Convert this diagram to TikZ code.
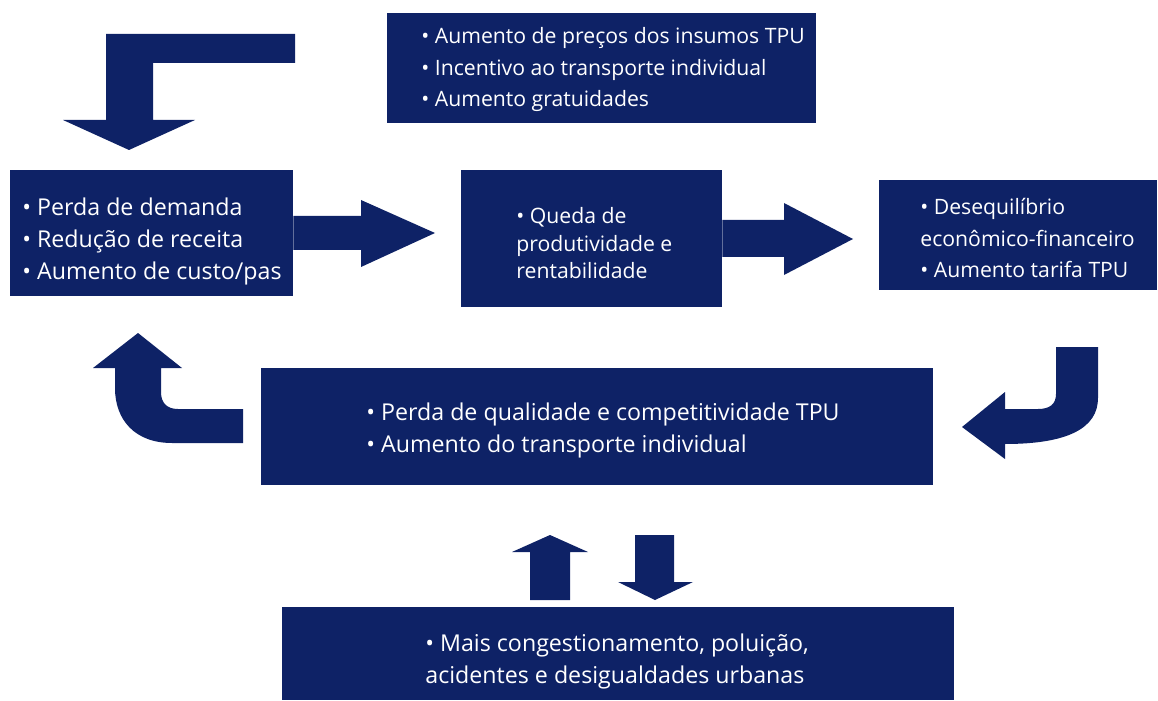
\documentclass[tikz,border=0pt]{standalone}
\usepackage{fontspec}
\setmainfont{Open Sans}
\usepackage{tikz}
\usetikzlibrary{positioning}
\definecolor{navy}{RGB}{14,34,102}

\begin{document}
\begin{tikzpicture}[x=0.5pt,y=-0.5pt]

\tikzset{blockbox/.style={
    fill=navy, draw=none, inner sep=0pt, minimum width=#1
  }, blockbox/.default=100pt,
  bigtext/.style={text=white, align=left, anchor=west, inner sep=0pt,
    font=\fontsize{11.6}{16}\selectfont},
  smalltext/.style={text=white, align=left, anchor=west, inner sep=0pt,
    font=\fontsize{10.6}{15.6}\selectfont},
  blockarrow/.style={fill=navy, draw=none}
}
\useasboundingbox (0,0) rectangle (1158,701);

\node[blockbox=214.5pt, minimum height=55pt] (causas) at (601.5,68) {};
\node[blockbox=141.5pt, minimum height=63pt] (perda) at (151.5,233) {};
\node[blockbox=130.5pt, minimum height=68.5pt] (queda) at (591.5,238.5) {};
\node[blockbox=139pt, minimum height=55pt] (deseq) at (1018,235) {};
\node[blockbox=336pt, minimum height=58.5pt] (qualidade) at (597,426.5) {};
\node[blockbox=336pt, minimum height=46.5pt] (urbano) at (618,653.5) {};

\node[smalltext] (causas-txt) at (421,69.5)
  {• Aumento de preços dos insumos TPU\\
   • Incentivo ao transporte individual\\
   • Aumento gratuidades};
\node[bigtext] (perda-txt) at (22,241)
  {• Perda de demanda\\
   • Redução de receita\\
   • Aumento de custo/pas};
\node[smalltext, font=\fontsize{10.6}{13.75}\selectfont] (queda-txt) at (516,243.5)
  {• Queda de\\
   produtividade e\\
   rentabilidade};
\node[smalltext] (deseq-txt) at (920,238)
  {• Desequilíbrio\\
   econômico-financeiro\\
   • Aumento tarifa TPU};
\node[bigtext] (qualidade-txt) at (366,430)
  {• Perda de qualidade e competitividade TPU\\
   • Aumento do transporte individual};
\node[bigtext] (urbano-txt) at (425,661)
  {• Mais congestionamento, poluição,\\
   acidentes e desigualdades urbanas};

% setas
\fill[blockarrow] (295,34) -- (295,63) -- (153,63) -- (153,120) -- (195,120)
  -- (129,150) -- (63,120) -- (106,120) -- (106,34) -- cycle;
\fill[blockarrow] (perda.east |- 0,216) -- (361,216) -- (361,200) -- (435,233)
  -- (361,267) -- (361,250) -- (perda.east |- 0,250) -- cycle;
\fill[blockarrow] (queda.east |- 0,220) -- (784,220) -- (784,203) -- (853,239)
  -- (784,275) -- (784,257) -- (queda.east |- 0,257) -- cycle;
\fill[blockarrow] (1056,347) -- (1098,347) -- (1098,398)
  .. controls (1098,428) and (1068,444) .. (1005,444) -- (1005,459) -- (962,427)
  -- (1005,392) -- (1005,409) -- (1038,409)
  .. controls (1050,409) and (1056,404) .. (1056,394) -- cycle;
\fill[blockarrow] (243,409) -- (243,443) -- (172,443)
  .. controls (135,443) and (115,420) .. (115,388) -- (115,368) -- (93,368)
  -- (138,333) -- (182,368) -- (161,368) -- (161,392)
  .. controls (161,403) and (167,409) .. (178,409) -- cycle;
\fill[blockarrow] (530,600) -- (530,552) -- (512,552) -- (550,535) -- (588,552)
  -- (570,552) -- (570,600) -- cycle;
\fill[blockarrow] (635,535) -- (674,535) -- (674,582) -- (693,582) -- (655,600)
  -- (618,582) -- (635,582) -- cycle;

\end{tikzpicture}
\end{document}
